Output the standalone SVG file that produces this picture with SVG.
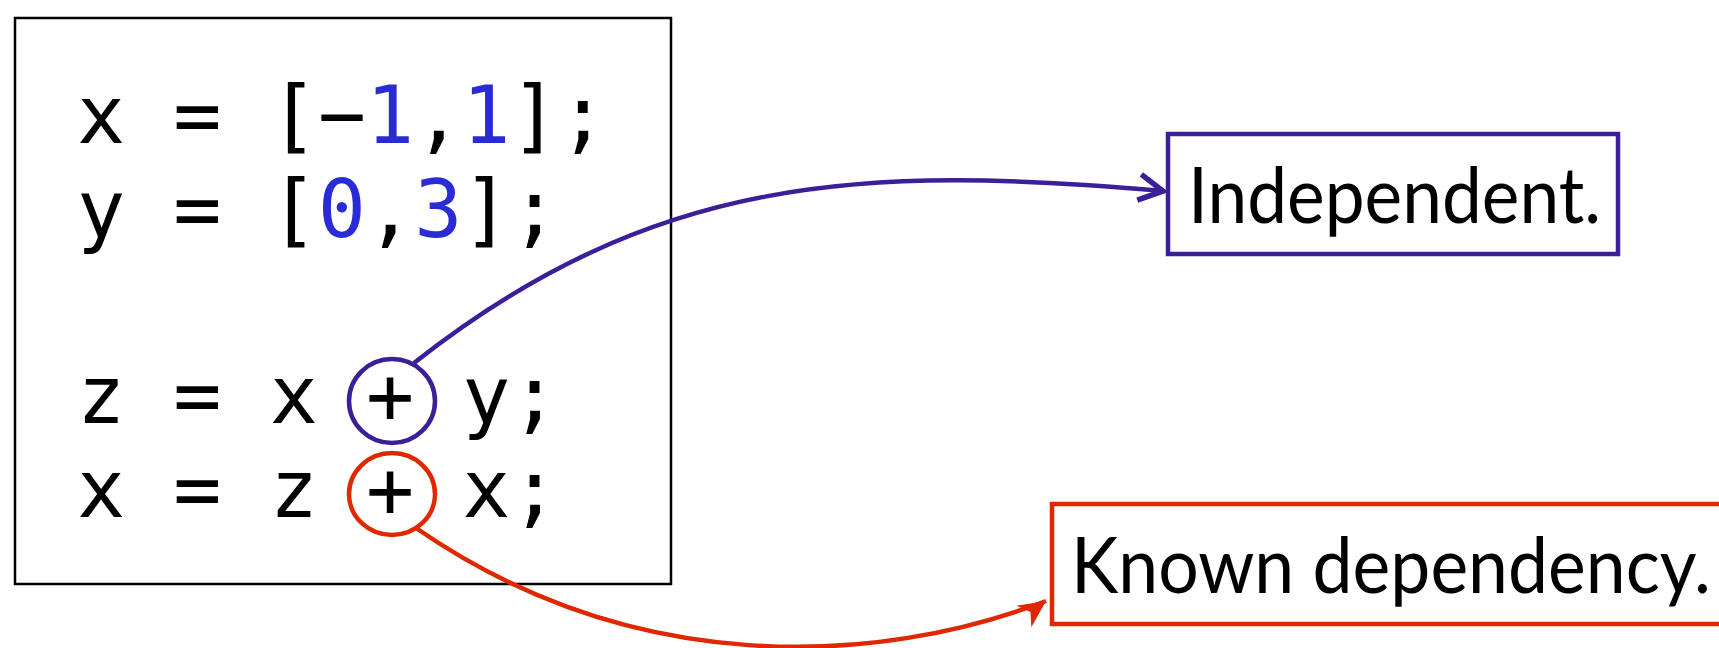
<svg xmlns="http://www.w3.org/2000/svg" width="1719" height="648" viewBox="0 0 1719 648">
<style>
.code{font-family:"DejaVu Sans Mono","Liberation Mono",monospace;font-size:80px;fill:#000}
.num{fill:#2a2ad6}
.lbl{font-family:Lato,"Open Sans","Liberation Sans",sans-serif;font-size:78px;fill:#000}
.blue{stroke:#3a1f99;fill:none;stroke-width:4.5}
.red{stroke:#e02800;fill:none;stroke-width:4.5}
</style>
<defs>
<marker id="openArrow" markerUnits="userSpaceOnUse" viewBox="-30 -20 36 40" refX="0" refY="0" markerWidth="36" markerHeight="40" orient="9" overflow="visible">
<path d="M-24 -13 L0 0 L-24 13" fill="none" stroke="#3a1f99" stroke-width="5.5" stroke-linejoin="miter"/>
</marker>
<marker id="fillArrow" markerUnits="userSpaceOnUse" viewBox="-30 -20 36 40" refX="0" refY="0" markerWidth="36" markerHeight="40" orient="-35" overflow="visible">
<path d="M0 0 L-27 -13 L-19 0 L-27 13 Z" fill="#e02800"/>
</marker>
</defs>
<rect width="1719" height="648" fill="#fff"/>
<g id="code-block">
<rect x="15" y="18" width="656" height="566" fill="none" stroke="#000" stroke-width="2.5"/>
<text class="code" x="77" y="143">x = [−<tspan class="num">1</tspan>,<tspan class="num">1</tspan>];</text>
<text class="code" x="77" y="237">y = [<tspan class="num">0</tspan>,<tspan class="num">3</tspan>];</text>
<text class="code" x="77" y="423">z = x + y;</text>
<text class="code" x="77" y="517">x = z + x;</text>
</g>
<g id="op-independent">
<ellipse class="blue" cx="392" cy="401" rx="43" ry="42"/>
</g>
<g id="op-dependent">
<ellipse class="red" cx="392" cy="494" rx="43" ry="41"/>
</g>
<g id="independent">
<rect x="1168" y="134" width="450" height="120" fill="none" stroke="#3a1f99" stroke-width="4.5"/>
<text class="lbl" x="1188" y="223" textLength="413" lengthAdjust="spacingAndGlyphs">Independent.</text>
</g>
<g id="known-dependency">
<rect x="1052" y="504" width="700" height="120" fill="none" stroke="#e02800" stroke-width="4.5"/>
<text class="lbl" x="1071" y="593" textLength="640" lengthAdjust="spacingAndGlyphs">Known dependency.</text>
</g>
<g id="connectors">
<path class="blue" d="M414 363 C654 174 864 165 1163 191" marker-end="url(#openArrow)"/>
<path class="red" d="M416 528 C633 678 876 666 1046 601" marker-end="url(#fillArrow)"/>
</g>
</svg>
